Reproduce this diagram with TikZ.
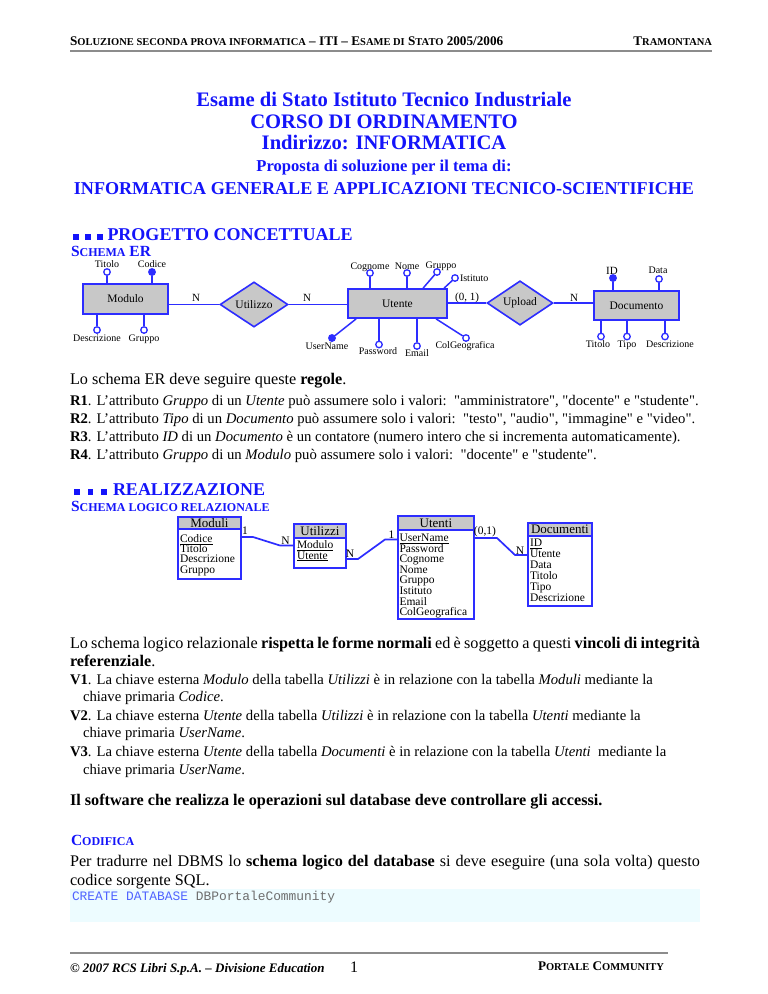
\documentclass[tikz,border=0pt]{standalone}
\usepackage{fontspec}
\setmainfont{Liberation Serif}[Ligatures=TeXOff]
\setmonofont{Liberation Mono}
\usetikzlibrary{calc,shapes.geometric}
\definecolor{erblue}{RGB}{45,45,255}
\definecolor{tblue}{RGB}{20,20,250}
\definecolor{ergray}{RGB}{200,200,200}
\definecolor{codebg}{RGB}{237,252,255}
\definecolor{codeblue}{RGB}{80,100,255}
\definecolor{codegray}{RGB}{110,110,110}
\definecolor{rulegray}{RGB}{140,140,140}
\newcommand\fs[2]{\fontsize{#1}{#2}\selectfont}
\newcommand\smc[2]{{\fontsize{#1}{#1}\selectfont #2}}
\begin{document}
\begin{tikzpicture}[x=1pt,y=-1pt,
  txt/.style={anchor=base west,inner sep=0,outer sep=0},
  ctr/.style={anchor=base,inner sep=0,outer sep=0},
  ttl/.style={ctr,text=tblue,font=\bfseries\fs{20.6}{21}},
  body/.style={txt,font=\fs{16.2}{17}},
  small/.style={txt,font=\fs{14.7}{15}},
  ent/.style={draw=erblue,line width=1.8,fill=ergray,inner sep=0,font=\fs{11.5}{12}},
  rel/.style={diamond,draw=erblue,line width=1.6,fill=ergray,inner sep=0,font=\fs{11.5}{12},minimum width=68,minimum height=35},
  att/.style={circle,draw=erblue,line width=1.3,fill=white,minimum size=6.5,inner sep=0},
  key/.style={att,fill=erblue},
  al/.style={ctr,font=\fs{10}{10}},
  lnk/.style={draw=erblue,line width=1.5},
  thead/.style={draw=erblue,line width=1.8,fill=ergray,inner sep=0,anchor=north west,font=\fs{13}{13}},
  tbody/.style={draw=erblue,line width=1.8,fill=white,inner sep=0,anchor=north west},
  fld/.style={txt,font=\fs{11.5}{11}},
  sq/.style={fill=tblue,inner sep=0,minimum size=5.5,anchor=south west}]
\useasboundingbox (0,0) rectangle (768,994);
\fill[white] (0,0) rectangle (768,994);

% header
\node[txt,font=\bfseries\fs{13.2}{13}] (hdl) at (70,45) {S\smc{10.5}{OLUZIONE SECONDA PROVA INFORMATICA} – ITI – E\smc{10.5}{SAME DI} S\smc{10.5}{TATO} 2005/2006};
\node[txt,anchor=base east,font=\bfseries\fs{13.2}{13}] (hdr) at (712,45) {T\smc{10.5}{RAMONTANA}};
\draw[rulegray,line width=1.5] (70,51) -- (712,51);

% titles
\node[ttl] (t1) at (384,106) {Esame di Stato Istituto Tecnico Industriale};
\node[ttl] (t2) at (384,128) {CORSO DI ORDINAMENTO};
\node[ttl] (t3) at (384,149) {Indirizzo: INFORMATICA};
\node[ttl,font=\bfseries\fs{16.6}{17}] (t4) at (384,171) {Proposta di soluzione per il tema di:};
\node[ttl,font=\bfseries\fs{18.1}{18}] (t5) at (384,194) {INFORMATICA GENERALE E APPLICAZIONI TECNICO-SCIENTIFICHE};

% section 1
\node[sq] (s1a) at (73,240) {};
\node[sq] (s1b) at (85,240) {};
\node[sq] (s1c) at (97,240) {};
\node[txt,text=tblue,font=\bfseries\fs{18}{18}] (sec1) at (107.5,240) {PROGETTO CONCETTUALE};
\node[txt,text=tblue,font=\bfseries\fs{15.5}{16}] (sub1) at (71,256.5) {S\smc{12}{CHEMA} ER};

% ER diagram
\node[ent,minimum width=85,minimum height=30] (modulo) at (125.5,299) {Modulo};
\node[rel] (utilizzo) at (254,304.5) {Utilizzo};
\node[ent,minimum width=99,minimum height=29] (utente) at (397.5,303.5) {Utente};
\node[rel,minimum width=66,minimum height=36] (upload) at (520,303) {Upload};
\node[ent,minimum width=85,minimum height=29] (documento) at (636.5,305.5) {Documento};

\draw[lnk] (modulo.east |- utilizzo.west) -- (utilizzo.west);
\draw[lnk] (utilizzo.east) -- (utilizzo.east -| utente.west);
\draw[lnk] (utente.east |- upload.west) -- (upload.west);
\draw[lnk] (upload.east) -- (upload.east -| documento.west);
\node[al,font=\fs{11}{11}] (c1) at (196,301) {N};
\node[al,font=\fs{11}{11}] (c2) at (307,301) {N};
\node[al,font=\fs{11}{11}] (c3) at (467,300.5) {(0, 1)};
\node[al,font=\fs{11}{11}] (c4) at (574,301) {N};

% Modulo attributes
\node[att] (mtit) at (107,272) {};
\node[key] (mcod) at (152,272) {};
\node[att] (mdes) at (97,330) {};
\node[att] (mgru) at (144,330) {};
\draw[lnk] (mtit) -- (mtit |- modulo.north);
\draw[lnk] (mcod) -- (mcod |- modulo.north);
\draw[lnk] (mdes) -- (mdes |- modulo.south);
\draw[lnk] (mgru) -- (mgru |- modulo.south);
\node[al] (lmtit) at (107,267.5) {Titolo};
\node[al] (lmcod) at (152,267.5) {Codice};
\node[al] (lmdes) at (97,341.5) {Descrizione};
\node[al] (lmgru) at (144,341.5) {Gruppo};

% Utente attributes
\node[att] (ucog) at (370,273) {};
\node[att] (unom) at (407,273) {};
\node[att] (ugru) at (437,272) {};
\node[att] (uist) at (455,278) {};
\node[key] (uusr) at (332,338) {};
\node[att] (upwd) at (379,344.5) {};
\node[att] (uema) at (417,346) {};
\node[att] (ucol) at (466,338) {};
\coordinate (pgru) at ($(utente.north west)+(76,0)$);
\coordinate (pist) at ($(utente.north west)+(97,0)$);
\coordinate (pusr) at ($(utente.south west)+(9,0)$);
\coordinate (pcol) at ($(utente.south west)+(89,0)$);
\draw[lnk] (ucog) -- (ucog |- utente.north);
\draw[lnk] (unom) -- (unom |- utente.north);
\draw[lnk] (ugru) -- (pgru);
\draw[lnk] (uist) -- (pist);
\draw[lnk] (uusr) -- (pusr);
\draw[lnk] (upwd) -- (upwd |- utente.south);
\draw[lnk] (uema) -- (uema |- utente.south);
\draw[lnk] (ucol) -- (pcol);
\node[al] (lucog) at (370,269) {Cognome};
\node[al] (lunom) at (407,269) {Nome};
\node[al] (lugru) at (441,268) {Gruppo};
\node[al,anchor=base west] (luist) at (460,281) {Istituto};
\node[al] (luusr) at (327,349) {UserName};
\node[al] (lupwd) at (378,354.5) {Password};
\node[al] (luema) at (417,356) {Email};
\node[al] (lucol) at (465,348) {ColGeografica};

% Documento attributes
\node[key] (did) at (613,278) {};
\node[att] (ddat) at (659,279) {};
\node[att] (dtit) at (601,336.5) {};
\node[att] (dtip) at (627,336.5) {};
\node[att] (ddes) at (665,336.5) {};
\draw[lnk] (did) -- (did |- documento.north);
\draw[lnk] (ddat) -- (ddat |- documento.north);
\draw[lnk] (dtit) -- (dtit |- documento.south);
\draw[lnk] (dtip) -- (dtip |- documento.south);
\draw[lnk] (ddes) -- (ddes |- documento.south);
\node[al,font=\fs{11}{11}] (ldid) at (612,274.5) {ID};
\node[al] (lddat) at (658,273.5) {Data};
\node[al] (ldtit) at (598,347) {Titolo};
\node[al] (ldtip) at (627,347.5) {Tipo};
\node[al] (lddes) at (670,347) {Descrizione};

% rules
\node[body] (r0) at (70,384) {Lo schema ER deve seguire queste \textbf{regole}.};
\node[small] (r1) at (70,405) {\textbf{R1}. L’attributo \textit{Gruppo} di un \textit{Utente} può assumere solo i valori:\ \ "amministratore", "docente" e "studente".};
\node[small] (r2) at (70,423) {\textbf{R2}. L’attributo \textit{Tipo} di un \textit{Documento} può assumere solo i valori:\ \ "testo", "audio", "immagine" e "video".};
\node[small] (r3) at (70,441) {\textbf{R3}. L’attributo \textit{ID} di un \textit{Documento} è un contatore (numero intero che si incrementa automaticamente).};
\node[small] (r4) at (70,459) {\textbf{R4}. L’attributo \textit{Gruppo} di un \textit{Modulo} può assumere solo i valori:\ \ "docente" e "studente".};

% section 2
\node[sq] (s2a) at (74,495) {};
\node[sq] (s2b) at (87.5,495) {};
\node[sq] (s2c) at (101,495) {};
\node[txt,text=tblue,font=\bfseries\fs{18}{18}] (sec2) at (113,495) {REALIZZAZIONE};
\node[txt,text=tblue,font=\bfseries\fs{15.5}{16}] (sub2) at (71,511.5) {S\smc{12}{CHEMA LOGICO RELAZIONALE}};

% relational tables
\node[tbody,minimum width=63,minimum height=50] (modb) at (177,528) {};
\node[thead,minimum width=63,minimum height=12] (modh) at (177,516) {Moduli};
\foreach \t [count=\i] in {{\underline{Codice}},Titolo,Descrizione,Gruppo}
  \node[fld] (modf\i) at ($(modb.north west)+(3,14.5+10.2*\i-10.2)$) {\t};

\node[tbody,minimum width=52,minimum height=30] (utib) at (293,537) {};
\node[thead,minimum width=52,minimum height=14] (utih) at (293,523) {Utilizzi};
\foreach \t [count=\i] in {{\underline{Modulo}},{\underline{Utente}}}
  \node[fld] (utif\i) at ($(utib.north west)+(4,11.3+10.7*\i-10.7)$) {\t};

\node[tbody,minimum width=76,minimum height=89] (uteb) at (397,529) {};
\node[thead,minimum width=76,minimum height=14] (uteh) at (397,515) {Utenti};
\foreach \t [count=\i] in {{\underline{UserName}},Password,Cognome,Nome,Gruppo,Istituto,Email,ColGeografica}
  \node[fld] (utef\i) at ($(uteb.north west)+(2.5,12.7+10.57*\i-10.57)$) {\t};

\node[tbody,minimum width=64,minimum height=70] (docb) at (527,535) {};
\node[thead,minimum width=64,minimum height=13] (doch) at (527,522) {Documenti};
\foreach \t [count=\i] in {{\underline{ID}},Utente,Data,Titolo,Tipo,Descrizione}
  \node[fld] (docf\i) at ($(docb.north west)+(3,11.7+10.87*\i-10.87)$) {\t};

\coordinate (b1) at (253,537);
\coordinate (b2) at (280,545.5);
\coordinate (b3) at (358,559);
\coordinate (b4) at (385,539.5);
\coordinate (b5) at (497,538);
\coordinate (b6) at (515,555);
\draw[lnk,line width=1.7] (modb.east |- b1) -- (b1) -- (b2) -- (b2 -| utib.west);
\draw[lnk,line width=1.7] (utib.east |- b3) -- (b3) -- (b4) -- (b4 -| uteb.west);
\draw[lnk,line width=1.7] (uteb.east |- b5) -- (b5) -- (b6) -- (b6 -| docb.west);
\node[al,font=\fs{11.5}{11}] (k1) at (245,534.5) {1};
\node[al,font=\fs{11.5}{11}] (k2) at (285.5,544) {N};
\node[al,font=\fs{11.5}{11}] (k3) at (350,557) {N};
\node[al,font=\fs{11.5}{11}] (k4) at (391.5,538) {1};
\node[al,font=\fs{11.5}{11}] (k5) at (485,534.5) {(0,1)};
\node[al,font=\fs{11.5}{11}] (k6) at (520,554) {N};

% text block 2
\node[body] (p1) at (70,648) {\makebox[630pt][s]{Lo schema logico relazionale \textbf{rispetta le forme normali} ed è soggetto a questi \textbf{vincoli di integrità}}};
\node[body] (p2) at (70,666) {\textbf{referenziale}.};
\node[small] (v1) at (70,684) {\textbf{V1}. La chiave esterna \textit{Modulo} della tabella \textit{Utilizzi} è in relazione con la tabella \textit{Moduli} mediante la};
\node[small] (v1b) at (83,701) {chiave primaria \textit{Codice}.};
\node[small] (v2) at (70,720) {\textbf{V2}. La chiave esterna \textit{Utente} della tabella \textit{Utilizzi} è in relazione con la tabella \textit{Utenti} mediante la};
\node[small] (v2b) at (83,737) {chiave primaria \textit{UserName}.};
\node[small] (v3) at (70,756) {\textbf{V3}. La chiave esterna \textit{Utente} della tabella \textit{Documenti} è in relazione con la tabella \textit{Utenti}\ \ mediante la};
\node[small] (v3b) at (83,774) {chiave primaria \textit{UserName}.};
\node[body,font=\bfseries\fs{16.2}{17}] (p3) at (70,805) {Il software che realizza le operazioni sul database deve controllare gli accessi.};

\node[txt,text=tblue,font=\bfseries\fs{15.5}{16}] (cod) at (71,845) {C\smc{12}{ODIFICA}};
\node[body] (p4) at (70,866) {\makebox[630pt][s]{Per tradurre nel DBMS lo \textbf{schema logico del database} si deve eseguire (una sola volta) questo}};
\node[body] (p5) at (70,885) {codice sorgente SQL.};
\fill[codebg] (70,889) rectangle (700,922);
\node[txt,font=\ttfamily\fs{12.9}{13}] (sql) at (72,900) {\textcolor{codeblue}{CREATE DATABASE} \textcolor{codegray}{DBPortaleCommunity}};

% footer
\draw[rulegray,line width=1.5] (70,953) -- (668,953);
\node[txt,font=\bfseries\itshape\fs{13}{13}] (fl) at (70,972) {© 2007 RCS Libri S.p.A. – Divisione Education};
\node[txt,font=\fs{16}{16}] (fp) at (350,972) {1};
\node[txt,font=\bfseries\fs{13.2}{13}] (fr) at (538,970) {P\smc{10.5}{ORTALE} C\smc{10.5}{OMMUNITY}};
\end{tikzpicture}
\end{document}
